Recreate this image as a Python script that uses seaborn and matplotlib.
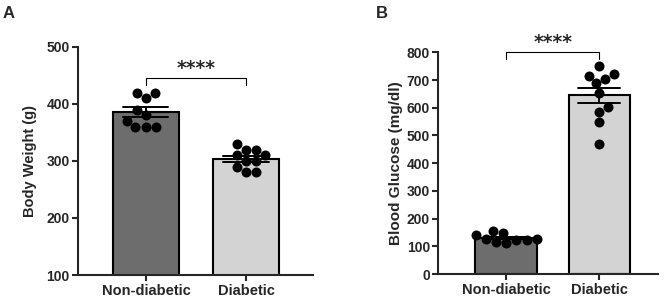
import matplotlib
matplotlib.use('Agg')
import matplotlib.pyplot as plt
import seaborn as sns
import pandas as pd
import numpy as np

# data
groups = ['Non-diabetic', 'Diabetic']
bw_nondiabetic = [380, 360, 410, 370, 420, 390, 360, 420, 360]
bw_diabetic = [320, 300, 280, 330, 310, 320, 300, 280, 310, 290]
bg_nondiabetic = [156, 123, 141, 123, 125, 147, 113, 126, 117]
bg_diabetic = [752, 703, 722, 688, 654, 715, 604, 586, 550, 469]

bar_colors = ['#6d6d6d', '#d3d3d3']

df_bw = pd.DataFrame({'group': ['Non-diabetic'] * len(bw_nondiabetic) + ['Diabetic'] * len(bw_diabetic),
                      'value': bw_nondiabetic + bw_diabetic})
df_bg = pd.DataFrame({'group': ['Non-diabetic'] * len(bg_nondiabetic) + ['Diabetic'] * len(bg_diabetic),
                      'value': bg_nondiabetic + bg_diabetic})

sns.set_style('ticks')
plt.rcParams['font.family'] = ['Liberation Sans', 'DejaVu Sans']
plt.rcParams['font.weight'] = 'bold'
plt.rcParams['axes.linewidth'] = 1.5

fig = plt.figure(figsize=(6.66, 3.02), dpi=100)
ax1 = fig.add_axes([0.117, 0.0894, 0.353, 0.755])
ax2 = fig.add_axes([0.658, 0.0927, 0.330, 0.734])


def draw_panel(ax, df, ylim, yticks, ylabel, label_x, label_size, xlim):
    sns.barplot(data=df, x='group', y='value', hue='group', order=groups, hue_order=groups,
                palette=bar_colors, legend=False, errorbar='se', capsize=0.45, width=0.66,
                edgecolor='black', linewidth=1.5,
                err_kws={'color': 'black', 'linewidth': 1.4}, ax=ax, zorder=1)
    sns.swarmplot(data=df, x='group', y='value', order=groups, color='black', size=7.2,
                  ax=ax, zorder=3)
    ax.set_ylim(*ylim)
    ax.set_xlim(*xlim)
    ax.set_yticks(yticks)
    ax.set_xlabel('')
    ax.set_ylabel(ylabel, fontsize=label_size, fontweight='bold')
    ax.yaxis.set_label_coords(label_x, 0.5)
    ax.tick_params(axis='y', length=4.5, width=1.5, pad=1.5, labelsize=10)
    ax.tick_params(axis='x', length=4, width=1.5, pad=2.5, labelsize=10.5)
    for t in ax.get_xticklabels() + ax.get_yticklabels():
        t.set_fontweight('bold')
    sns.despine(ax=ax)


draw_panel(ax1, df_bw, (100, 500), [100, 200, 300, 400, 500], 'Body Weight (g)', -0.175, 10.5,
           (-0.68, 1.67))
draw_panel(ax2, df_bg, (0, 800), list(range(0, 801, 100)), 'Blood Glucose (mg/dl)', -0.16, 11,
           (-0.73, 1.63))

# significance brackets
ax1.plot([0, 0, 1, 1], [433, 445, 445, 433], color='black', lw=0.8, clip_on=False)
ax1.text(0.5, 463, '****', ha='center', va='center', fontsize=13.5, fontweight='bold',
         family='DejaVu Sans', clip_on=False)
ax2.plot([0, 0, 1, 1], [775, 800, 800, 775], color='black', lw=0.8, clip_on=False)
ax2.text(0.5, 837, '****', ha='center', va='center', fontsize=13.5, fontweight='bold',
         family='DejaVu Sans', clip_on=False)

fig.text(3 / 666, 1 - 13 / 302, 'A', fontsize=12, fontweight='bold', va='center', ha='left')
fig.text(376 / 666, 1 - 14 / 302, 'B', fontsize=12, fontweight='bold', va='center', ha='left')

fig.savefig('out.png', dpi=100)
